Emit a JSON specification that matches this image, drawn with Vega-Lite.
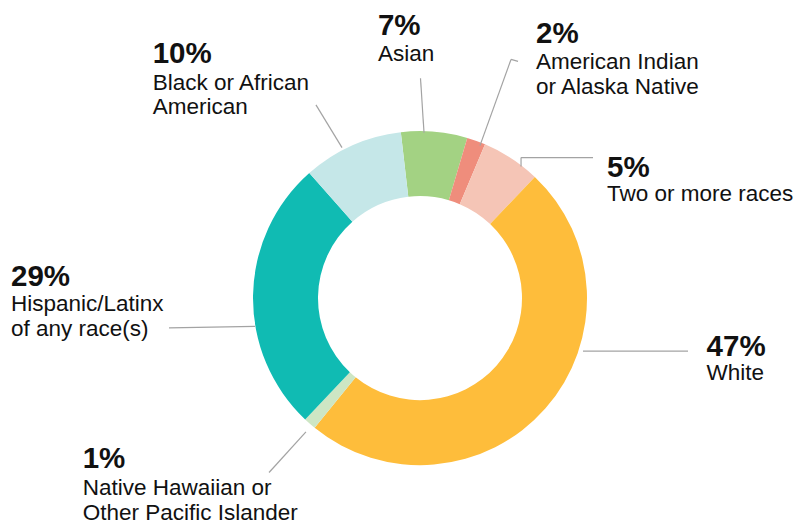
{
  "$schema": "https://vega.github.io/schema/vega-lite/v6.json",
  "width": 801,
  "height": 525,
  "autosize": {"type": "fit", "contains": "padding"},
  "padding": 0,
  "background": "white",
  "config": {"view": {"stroke": null}},
  "datasets": {
    "slices": [
      {"group": "Asian", "value": 6.4, "ord": 1},
      {"group": "American Indian or Alaska Native", "value": 1.8, "ord": 2},
      {"group": "Two or more races", "value": 5.7, "ord": 3},
      {"group": "White", "value": 48.8, "ord": 4},
      {"group": "Native Hawaiian or Other Pacific Islander", "value": 1.2, "ord": 5},
      {"group": "Hispanic/Latinx of any race(s)", "value": 26.4, "ord": 6},
      {"group": "Black or African American", "value": 9.7, "ord": 7}
    ],
    "leaders": [
      {"x1": -0.623, "y1": -1.168, "x2": -0.467, "y2": -0.910},
      {"x1": 0.003, "y1": -1.329, "x2": 0.024, "y2": -1.000},
      {"x1": 0.359, "y1": -0.922, "x2": 0.545, "y2": -1.443},
      {"x1": 0.545, "y1": -1.443, "x2": 0.587, "y2": -1.431},
      {"x1": 0.605, "y1": -0.796, "x2": 0.605, "y2": -0.850},
      {"x1": 0.605, "y1": -0.850, "x2": 1.036, "y2": -0.850},
      {"x1": 0.976, "y1": 0.320, "x2": 1.605, "y2": 0.320},
      {"x1": -1.503, "y1": 0.180, "x2": -0.988, "y2": 0.171},
      {"x1": -0.904, "y1": 1.054, "x2": -0.683, "y2": 0.808}
    ],
    "labels": [
      {"pct": "10%", "name": ["Black or African", "American"], "lx": -1.601, "py": -1.419, "ny": -1.259},
      {"pct": "7%", "name": ["Asian"], "lx": -0.252, "py": -1.593, "ny": -1.431},
      {"pct": "2%", "name": ["American Indian", "or Alaska Native"], "lx": 0.695, "py": -1.543, "ny": -1.383},
      {"pct": "5%", "name": ["Two or more races"], "lx": 1.120, "py": -0.731, "ny": -0.587},
      {"pct": "47%", "name": ["White"], "lx": 1.716, "py": 0.347, "ny": 0.493},
      {"pct": "29%", "name": ["Hispanic/Latinx", "of any race(s)"], "lx": -2.449, "py": -0.076, "ny": 0.080},
      {"pct": "1%", "name": ["Native Hawaiian or", "Other Pacific Islander"], "lx": -2.020, "py": 1.028, "ny": 1.192}
    ]
  },
  "layer": [
    {
      "data": {"name": "slices"},
      "mark": {"type": "arc", "radius": 167, "radius2": 102},
      "encoding": {
        "x": {"datum": 0, "type": "quantitative", "scale": {"domain": [-2.515, 2.2814], "nice": false, "zero": false}, "axis": null},
        "y": {"datum": 0, "type": "quantitative", "scale": {"domain": [-1.8024, 1.3413], "nice": false, "zero": false, "reverse": true}, "axis": null},
        "theta": {"field": "value", "type": "quantitative", "stack": true, "scale": {"range": [-0.1152, 6.168]}},
        "order": {"field": "ord", "type": "quantitative"},
        "color": {
          "field": "group",
          "type": "nominal",
          "legend": null,
          "scale": {
            "domain": ["Asian", "American Indian or Alaska Native", "Two or more races", "White", "Native Hawaiian or Other Pacific Islander", "Hispanic/Latinx of any race(s)", "Black or African American"],
            "range": ["#a3d283", "#ef8d7c", "#f5c5b6", "#febd3b", "#cde6c4", "#10bbb3", "#c5e7e8"]
          }
        }
      }
    },
    {
      "data": {"name": "leaders"},
      "mark": {"type": "rule", "color": "#a3a3a3", "strokeWidth": 1.2},
      "encoding": {
        "x": {"field": "x1", "type": "quantitative"},
        "y": {"field": "y1", "type": "quantitative"},
        "x2": {"field": "x2"},
        "y2": {"field": "y2"}
      }
    },
    {
      "data": {"name": "labels"},
      "mark": {"type": "text", "align": "left", "baseline": "alphabetic", "font": "Liberation Sans", "fontWeight": "bold", "fontSize": 29.5, "color": "#111111"},
      "encoding": {
        "x": {"field": "lx", "type": "quantitative"},
        "y": {"field": "py", "type": "quantitative"},
        "text": {"field": "pct"}
      }
    },
    {
      "data": {"name": "labels"},
      "mark": {"type": "text", "align": "left", "baseline": "alphabetic", "font": "Liberation Sans", "fontSize": 22.5, "lineHeight": 24.5, "color": "#111111"},
      "encoding": {
        "x": {"field": "lx", "type": "quantitative"},
        "y": {"field": "ny", "type": "quantitative"},
        "text": {"field": "name"}
      }
    }
  ]
}
